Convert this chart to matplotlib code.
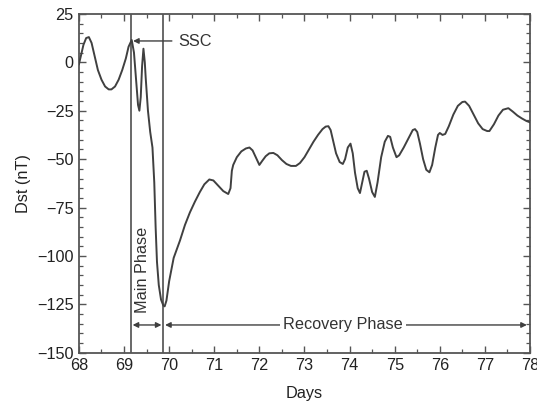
import numpy as np
import matplotlib
matplotlib.use("Agg")
from matplotlib import pyplot as plt
from matplotlib.ticker import MultipleLocator

# Dst index during a geomagnetic storm
days = [68.00, 68.05, 68.10, 68.16, 68.22, 68.28, 68.35, 68.42, 68.50, 68.58,
        68.66, 68.72, 68.80, 68.88, 68.96, 69.04, 69.10, 69.17, 69.22, 69.27,
        69.31, 69.34, 69.37, 69.40, 69.43, 69.46, 69.48, 69.53, 69.58, 69.63,
        69.67, 69.70, 69.73, 69.77, 69.82, 69.87, 69.90, 69.94, 70.00, 70.10,
        70.24, 70.35, 70.46, 70.57, 70.68, 70.78, 70.89, 70.98, 71.08, 71.20,
        71.31, 71.36, 71.39, 71.42, 71.50, 71.60, 71.70, 71.78, 71.85, 71.92,
        72.00, 72.06, 72.14, 72.22, 72.31, 72.40, 72.50, 72.60, 72.70, 72.81,
        72.90, 73.00, 73.10, 73.20, 73.30, 73.40, 73.47, 73.53, 73.58, 73.64,
        73.70, 73.78, 73.85, 73.90, 73.96, 74.02, 74.07, 74.12, 74.18, 74.23,
        74.28, 74.33, 74.38, 74.43, 74.50, 74.56, 74.62, 74.70, 74.78, 74.85,
        74.90, 74.96, 75.04, 75.10, 75.20, 75.30, 75.40, 75.45, 75.50, 75.56,
        75.63, 75.70, 75.77, 75.83, 75.90, 75.96, 76.00, 76.06, 76.12, 76.20,
        76.30, 76.40, 76.50, 76.56, 76.65, 76.75, 76.85, 76.95, 77.05, 77.10,
        77.20, 77.30, 77.40, 77.52, 77.62, 77.72, 77.82, 77.92, 78.00]
dst = [-1, 4, 9, 12.5, 13, 10, 3, -4, -9, -12.5,
       -14, -14, -12.5, -9, -4, 2, 8, 11.5, 5, -10,
       -22, -25, -18, -2, 7, 0, -8, -25, -36, -44,
       -62, -85, -103, -115, -122.5, -125.5, -126, -123, -113, -101,
       -92, -84, -77.5, -72, -67, -63, -60.5, -61, -63.5, -66.5,
       -68, -65, -56, -53, -49, -46, -44.5, -44, -45.5, -49,
       -53, -51, -48.5, -47, -46.8, -48, -50.5, -52.5, -53.5, -53.5,
       -52, -49, -45, -41, -37.5, -34.5, -33.2, -33, -35, -41,
       -47, -51.5, -52.5, -50, -44, -42, -47, -57, -65, -67.5,
       -62, -56.5, -56, -60, -67, -69.5, -62, -49, -41, -38,
       -38.5, -44, -49, -48, -44, -39.5, -35, -34.5, -36, -42,
       -50, -55.5, -56.8, -53, -44, -37.5, -36.5, -37.5, -37, -33,
       -27, -22.5, -20.5, -20.3, -22.5, -27, -31.5, -34.5, -35.5, -35.5,
       -32, -27.5, -24.5, -23.7, -25.5, -27.5, -29, -30.3, -31]

ssc_day = 69.15
main_end_day = 69.86
phase_arrow_y = -135.6

plt.rcParams["font.family"] = ["Liberation Sans", "DejaVu Sans"]
plt.rcParams["font.size"] = 11.7

ink = "#404040"

fig = plt.figure(figsize=(5.37, 4.07), dpi=100)
ax = fig.add_axes([0.147, 0.133, 0.840, 0.833])

ax.plot(days, dst, color=ink, lw=1.4, solid_joinstyle="round", zorder=3)

ax.axvline(ssc_day, color=ink, lw=1.1)
ax.axvline(main_end_day, color=ink, lw=1.1)

arrow = dict(arrowstyle="-|>", color=ink, lw=1.0, mutation_scale=8,
             shrinkA=0, shrinkB=0)
both = dict(arrowstyle="<|-|>", color=ink, lw=1.0, mutation_scale=8,
            shrinkA=0, shrinkB=0)

# SSC marker
ax.annotate("", xy=(69.2, 11), xytext=(70.06, 11), arrowprops=arrow)
ax.text(70.2, 10.5, "SSC", ha="left", va="center", color="#333333")

# main phase
ax.annotate("", xy=(69.19, phase_arrow_y), xytext=(69.83, phase_arrow_y),
            arrowprops=both)
ax.text(69.42, -107, "Main Phase", rotation=90, ha="center", va="center",
        color="#333333")

# recovery phase
ax.annotate("", xy=(69.91, phase_arrow_y), xytext=(77.93, phase_arrow_y),
            arrowprops=both)
ax.text(73.85, phase_arrow_y, "Recovery Phase", ha="center", va="center",
        color="#333333", zorder=4,
        bbox=dict(facecolor="white", edgecolor="none", pad=2.5))

ax.set_xlim(68, 78)
ax.set_ylim(-150, 25)
ax.set_xticks(np.arange(68, 79, 1))
ax.set_yticks(np.arange(-150, 26, 25))
ax.set_yticklabels(["\u2212150", "\u2212125", "\u2212100", "\u221275", "\u221250",
                    "\u221225", "0", "25"])
ax.xaxis.set_minor_locator(MultipleLocator(0.5))
ax.yaxis.set_minor_locator(MultipleLocator(5))
ax.tick_params(which="both", direction="in", top=True, right=True,
               color="#555555", labelcolor="#222222")
ax.tick_params(which="major", length=5, width=1.0, pad=4)
ax.tick_params(which="minor", length=3, width=0.9)
for s in ax.spines.values():
    s.set_color("#555555")
    s.set_linewidth(1.3)

ax.set_xlabel("Days", color="#222222", labelpad=9)
ax.set_ylabel("Dst (nT)", color="#222222", labelpad=4)

fig.savefig("out.png", dpi=100)
